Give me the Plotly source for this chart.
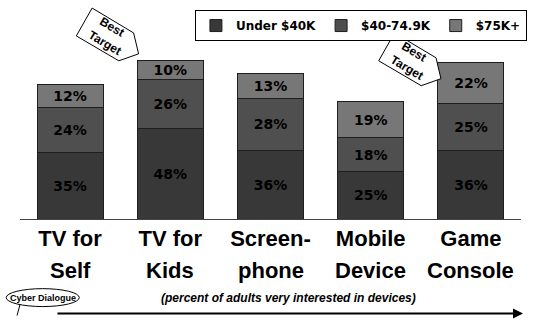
import plotly.graph_objects as go

categories = ["TV for Self", "TV for Kids", "Screen-phone", "Mobile Device", "Game Console"]
cat_line1 = ["TV for", "TV for", "Screen-", "Mobile", "Game"]
cat_line2 = ["Self", "Kids", "phone", "Device", "Console"]
series_names = ["Under $40K", "$40-74.9K", "$75K+"]
under_40k = [35, 48, 36, 25, 36]
mid_40_75k = [24, 26, 28, 18, 25]
over_75k = [12, 10, 13, 19, 22]
colors = ["#383838", "#4f4f4f", "#777777"]
footer_text = "(percent of adults very interested in devices)"
brand_text = "Cyber Dialogue"

W, H = 537, 320
L, R, T, B = 20, 10, 20, 101
PW, PH = W - L - R, H - T - B


def px(x):
    return (x - L) / PW


def py(y):
    return (H - B - y) / PH


fig = go.Figure()
for name, vals, col in zip(series_names, [under_40k, mid_40_75k, over_75k], colors):
    fig.add_trace(go.Bar(
        x=categories, y=vals, name=name,
        marker=dict(color=col, line=dict(color="#1e1e1e", width=1)),
        texttemplate="%{y}%", textposition="inside", insidetextanchor="middle",
        textangle=0, constraintext="none",
        textfont=dict(family="DejaVu Sans", size=14, color="black", weight="bold"),
    ))

shapes = []
annotations = []

# second line of category labels
for c, t in zip(categories, cat_line2):
    annotations.append(dict(x=c, xref="x", y=py(271), yref="paper", text=t,
                            showarrow=False, xanchor="center", yanchor="middle",
                            font=dict(family="Liberation Sans", size=22, color="black", weight="bold")))


def tag(dx, dy):
    pts = [(93, 7), (135, 32), (140, 53), (120, 60), (77, 35)]
    path = "M " + " L ".join(f"{px(x + dx)},{py(y + dy)}" for x, y in pts) + " Z"
    shapes.append(dict(type="path", xref="paper", yref="paper", path=path,
                       fillcolor="white", line=dict(color="black", width=1), layer="above"))
    for txt, (x, y) in [("Best", (113, 26)), ("Target", (106, 42))]:
        annotations.append(dict(x=px(x + dx), y=py(y + dy), xref="paper", yref="paper",
                                text=txt, showarrow=False, textangle=31,
                                xanchor="center", yanchor="middle",
                                font=dict(family="Liberation Sans", size=12, color="black", weight="bold")))


tag(0, 0)
tag(306, 25)

# Cyber Dialogue bubble
shapes.append(dict(type="circle", xref="paper", yref="paper",
                   x0=px(6), x1=px(80), y0=py(307), y1=py(289),
                   fillcolor="white", line=dict(color="black", width=1)))
shapes.append(dict(type="path", xref="paper", yref="paper",
                   path=f"M {px(20)},{py(305)} L {px(17)},{py(316)}",
                   line=dict(color="black", width=1)))
annotations.append(dict(x=px(43), y=py(298), xref="paper", yref="paper", text=brand_text,
                        showarrow=False, xanchor="center", yanchor="middle",
                        font=dict(family="Liberation Sans", size=9, color="black", weight="bold")))

# footer text and arrow
annotations.append(dict(x=px(292), y=py(298), xref="paper", yref="paper",
                        text="<i>" + footer_text + "</i>", showarrow=False,
                        xanchor="center", yanchor="middle",
                        font=dict(family="Liberation Sans", size=12, color="black", weight="bold")))
annotations.append(dict(x=px(529), y=py(314), xref="paper", yref="paper", text="",
                        showarrow=True, ax=-467, ay=0, axref="pixel", ayref="pixel",
                        arrowhead=2, arrowsize=1, arrowwidth=2, arrowcolor="black"))

fig.update_layout(
    width=W, height=H,
    margin=dict(l=L, r=R, t=T, b=B, pad=0),
    barmode="stack", bargap=0.34,
    plot_bgcolor="white", paper_bgcolor="white",
    showlegend=True,
    legend=dict(orientation="h", x=px(533), xanchor="right", y=py(9), yanchor="top",
                bordercolor="black", borderwidth=1, bgcolor="white",
                font=dict(family="DejaVu Sans", size=12, color="black", weight="bold"),
                traceorder="normal"),
    xaxis=dict(tickmode="array", tickvals=categories, ticktext=cat_line1,
               tickfont=dict(family="Liberation Sans", size=22, color="black", weight="bold"),
               showline=True, linecolor="#444444", linewidth=1, ticks="",
               range=[-0.5, 4.5], fixedrange=True),
    yaxis=dict(range=[0, PH / 1.9], visible=False, showgrid=False, fixedrange=True),
    shapes=shapes, annotations=annotations,
)

fig.write_html("out.html")
